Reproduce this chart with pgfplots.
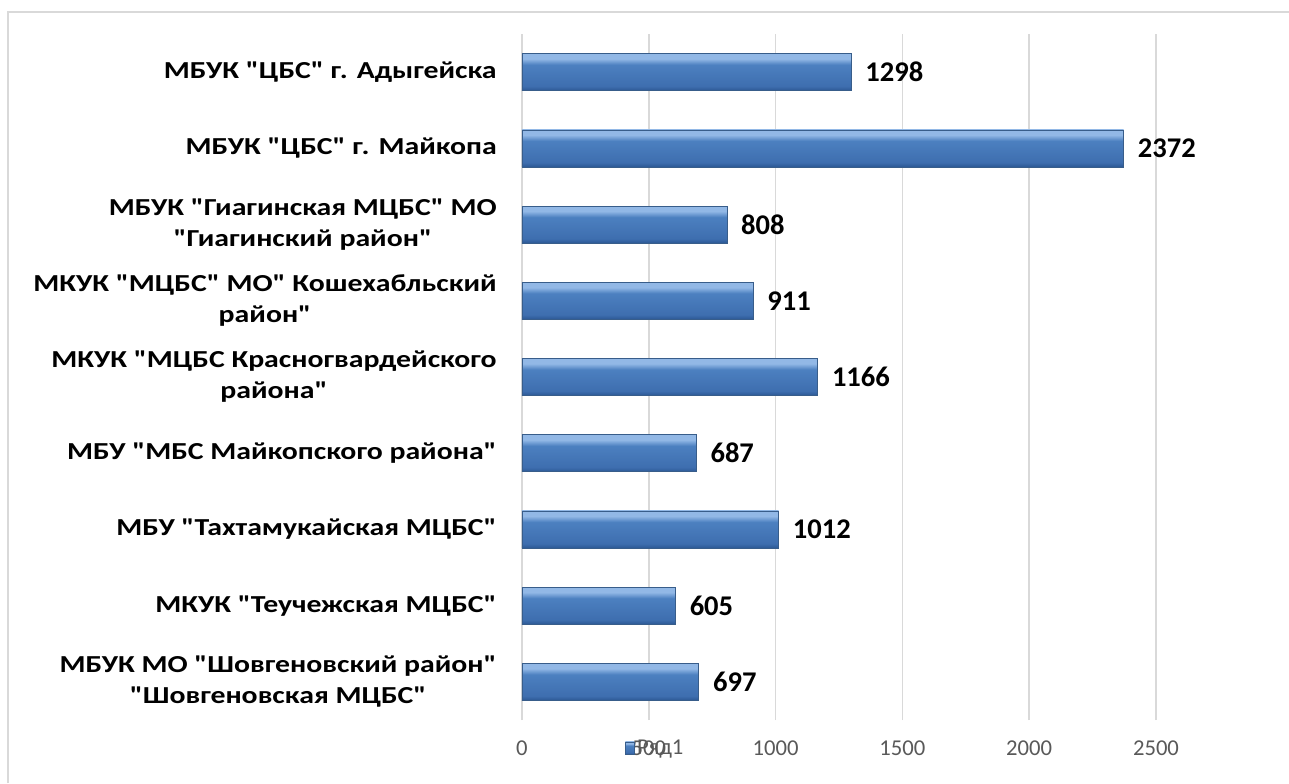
\documentclass[border=0pt]{standalone}
\usepackage{pgfplots}
\pgfplotsset{compat=1.18}
\usepackage{fontspec}
\setmainfont{Carlito}[Ligatures=TeXOff]
\newfontfamily\lblfont{Carlito}[Ligatures=TeXOff, FakeStretch=1.22]

\definecolor{barmid}{RGB}{76,128,192}
\definecolor{barmidb}{RGB}{62,110,175}
\definecolor{bartop}{RGB}{146,184,230}
\definecolor{barbot}{RGB}{44,88,148}
\definecolor{baredge}{RGB}{56,93,138}
\definecolor{gridc}{RGB}{217,217,217}
\definecolor{tickc}{RGB}{89,89,89}

% path bbox maps to 25bp..75bp
\pgfdeclareverticalshading{barshade}{100bp}{%
  color(0bp)=(barbot); color(25bp)=(barbot); color(31bp)=(barmidb);
  color(60bp)=(barmid); color(68bp)=(bartop); color(75bp)=(bartop);
  color(100bp)=(bartop)}

\pgfplotsset{
  mybar/.style={xbar, bar shift=0pt, bar width=27.75pt, shading=barshade,
    shade, draw=baredge, line width=0.5pt},
}

\begin{document}
\begin{tikzpicture}
\begin{axis}[
  at={(0,0)}, anchor=south west, scale only axis,
  width=475.5pt, height=514.5pt,
  xmin=0, xmax=2500, ymin=-0.5, ymax=8.5,
  xtick={0,500,...,2500}, ytick={0,...,8},
  yticklabels={
    {МБУК МО "Шовгеновский район"\\"Шовгеновская МЦБС"},
    {МКУК "Теучежская МЦБС"},
    {МБУ "Тахтамукайская МЦБС"},
    {МБУ "МБС Майкопского района"},
    {МКУК "МЦБС Красногвардейского\\района"},
    {МКУК "МЦБС" МО" Кошехабльский\\район"},
    {МБУК "Гиагинская МЦБС" МО\\"Гиагинский район"},
    {МБУК "ЦБС" г. Майкопа},
    {МБУК "ЦБС" г. Адыгейска}},
  xmajorgrids, grid style={gridc, line width=1.2pt},
  major tick length=0pt,
  axis line style={draw=none},
  /pgf/number format/1000 sep={},
  /pgf/number format/assume math mode=true,
  xticklabel style={font=\fontsize{17}{21}\selectfont, text=tickc,
    anchor=base, yshift=-26.6pt},
  yticklabel style={anchor=east, inner sep=0pt, xshift=-18.75pt, align=center,
    font=\lblfont\fontsize{18.3}{23.25}\selectfont\bfseries},
  point meta=x,
  nodes near coords,
  nodes near coords style={font=\fontsize{21.4}{25}\selectfont\bfseries,
    text=black, anchor=west, inner sep=0pt, xshift=10.5pt},
  clip=false,
  legend style={at={(0.1625,-0.0408)}, anchor=west, draw=none, fill=none,
    font=\fontsize{17}{21}\selectfont, text=tickc, inner sep=0pt},
  legend image code/.code={\shade[shading=barshade, draw=baredge, line width=0.3pt]
    (0pt,-4.5pt) rectangle (6.5pt,4.5pt);},
]
\addplot[mybar] coordinates {(1298,8)};
\addlegendentry{Ряд1}
\addplot[mybar, forget plot] coordinates {(2372,7)};
\addplot[mybar, forget plot] coordinates {(808,6)};
\addplot[mybar, forget plot] coordinates {(911,5)};
\addplot[mybar, forget plot] coordinates {(1166,4)};
\addplot[mybar, forget plot] coordinates {(687,3)};
\addplot[mybar, forget plot] coordinates {(1012,2)};
\addplot[mybar, forget plot] coordinates {(605,1)};
\addplot[mybar, forget plot] coordinates {(697,0)};
\end{axis}
\draw[gridc, line width=1.5pt] (-385.5pt,-47.25pt) -- (-385.5pt,531pt) -- (575.25pt,531pt);
\pgfresetboundingbox
\path (-391.5pt,-47.25pt) rectangle (575.25pt,540pt);
\end{tikzpicture}
\end{document}
